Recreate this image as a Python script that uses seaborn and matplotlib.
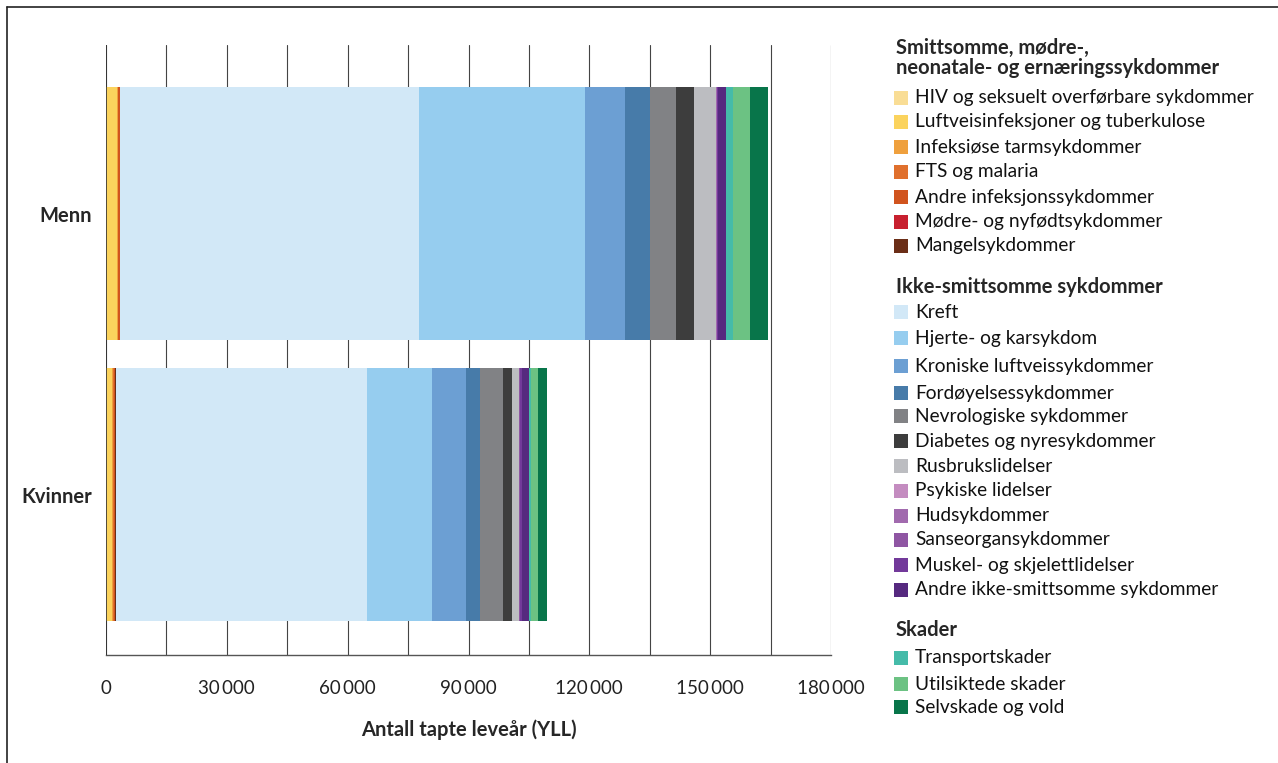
import matplotlib
matplotlib.use("Agg")
import matplotlib.pyplot as plt
import matplotlib.ticker as mticker
from matplotlib.patches import Rectangle
from matplotlib.lines import Line2D
import numpy as np
import pandas as pd
import seaborn as sns

# Categories (bars)
groups = ["Menn", "Kvinner"]

# Causes, in stacking order, grouped as in the legend
group1_title = "Smittsomme, mødre-,\nneonatale- og ernæringssykdommer"
group1 = ["HIV og seksuelt overførbare sykdommer", "Luftveisinfeksjoner og tuberkulose",
          "Infeksiøse tarmsykdommer", "FTS og malaria", "Andre infeksjonssykdommer",
          "Mødre- og nyfødtsykdommer", "Mangelsykdommer"]
group2_title = "Ikke-smittsomme sykdommer"
group2 = ["Kreft", "Hjerte- og karsykdom", "Kroniske luftveissykdommer", "Fordøyelsessykdommer",
          "Nevrologiske sykdommer", "Diabetes og nyresykdommer", "Rusbrukslidelser",
          "Psykiske lidelser", "Hudsykdommer", "Sanseorgansykdommer",
          "Muskel- og skjelettlidelser", "Andre ikke-smittsomme sykdommer"]
group3_title = "Skader"
group3 = ["Transportskader", "Utilsiktede skader", "Selvskade og vold"]
causes = group1 + group2 + group3

colors = ["#F9DD95", "#FBD35D", "#EFA03D", "#E0702D", "#D1541E", "#C8202F", "#6B2E17",
          "#D2E8F7", "#96CDEF", "#6C9FD3", "#477BA9", "#818285", "#3D3D3D", "#BCBDC1",
          "#C48CC0", "#A16AAE", "#8F56A3", "#72399A", "#56297F",
          "#45BBA9", "#6CC283", "#08754A"]

# YLL values
menn = [100, 2600, 200, 50, 450, 100, 50,
        74200, 41200, 9900, 6200, 6500, 4500, 5400, 100, 100, 100, 300, 2000,
        1700, 4200, 4500]
kvinner = [50, 1350, 450, 30, 250, 100, 150,
           62400, 16100, 8450, 3500, 5700, 2200, 1750, 100, 50, 50, 550, 1800,
           420, 1750, 2300]

xticks_major = [0, 30000, 60000, 90000, 120000, 150000, 180000]

df = pd.DataFrame({"cause": causes * 2,
                   "group": ["Menn"] * len(causes) + ["Kvinner"] * len(causes),
                   "yll": menn + kvinner})
df["cum"] = df.groupby("group")["yll"].cumsum()

FONT = ["Lato", "DejaVu Sans"]
sns.set_style("white")
plt.rcParams["font.family"] = FONT

W, H = 1278, 763
fig = plt.figure(figsize=(W / 100, H / 100), dpi=100)
ax = fig.add_axes([106 / W, 1 - 655 / H, (831 - 106) / W, (655 - 45) / H])

# stacked bars: draw cumulative totals from the last cause backwards
for cause, c in reversed(list(zip(causes, colors))):
    sub = df[df["cause"] == cause]
    sns.barplot(data=sub, x="cum", y="group", order=groups, orient="h",
                color=c, saturation=1, width=0.9, linewidth=0, ax=ax, zorder=3)

ax.set_xlim(0, 180000)
ax.set_ylim(1.571, -0.6)
ax.xaxis.set_major_locator(mticker.FixedLocator(xticks_major))
ax.xaxis.set_minor_locator(mticker.MultipleLocator(15000))
ax.xaxis.set_major_formatter(mticker.FuncFormatter(lambda v, p: f"{int(v):,}".replace(",", "\u2009")))
ax.grid(True, axis="x", which="both", color="#444444", linewidth=0.8, zorder=0)
ax.set_axisbelow(True)
for s in ["top", "right", "left"]:
    ax.spines[s].set_visible(False)
ax.spines["bottom"].set_color("#555555")
ax.spines["bottom"].set_linewidth(1.0)
ax.tick_params(axis="x", which="both", length=6, width=0.8, color="#555555",
               direction="out", pad=12, labelsize=13.5, labelcolor="#222222")
ax.tick_params(axis="y", length=0, pad=10, labelsize=14.5)
for t in ax.get_yticklabels():
    t.set_fontweight("bold")
ax.axvline(0, color="#333333", linewidth=1.2, zorder=4)
ax.set_ylabel("")
ax.set_xlabel("Antall tapte leveår (YLL)", fontsize=14.5, fontweight="bold", labelpad=16)

# legend drawn in figure pixel coordinates
def fx(px):
    return px / W

def fy(py):
    return 1 - py / H

def header(text, y):
    fig.text(fx(896), fy(y), text, fontsize=14.5, fontweight="bold", va="center",
             ha="left", linespacing=1.0)

def item(text, col, y):
    fig.patches.append(Rectangle((fx(894), fy(y + 7)), 14 / W, 14 / H, transform=fig.transFigure,
                                 facecolor=col, edgecolor="none"))
    fig.text(fx(915), fy(y), text, fontsize=13.8, va="center", ha="left", color="#111111")

header(group1_title, 58)
y1 = [98, 122, 147, 172, 197, 222, 246]
for name, y in zip(group1, y1):
    item(name, colors[causes.index(name)], y)

header(group2_title, 287)
y2 = [312, 338, 366, 393, 416, 441, 466, 491, 516, 540, 565, 590]
for name, y in zip(group2, y2):
    item(name, colors[causes.index(name)], y)

header(group3_title, 630)
y3 = [658, 684, 707]
for name, y in zip(group3, y3):
    item(name, colors[causes.index(name)], y)

# frame around the figure (left and top edges)
fig.add_artist(Line2D([fx(7), fx(7)], [0, fy(7)], color="#222222", linewidth=1.2))
fig.add_artist(Line2D([fx(7), 1], [fy(7), fy(7)], color="#222222", linewidth=1.2))

fig.savefig("out.png", dpi=100)
